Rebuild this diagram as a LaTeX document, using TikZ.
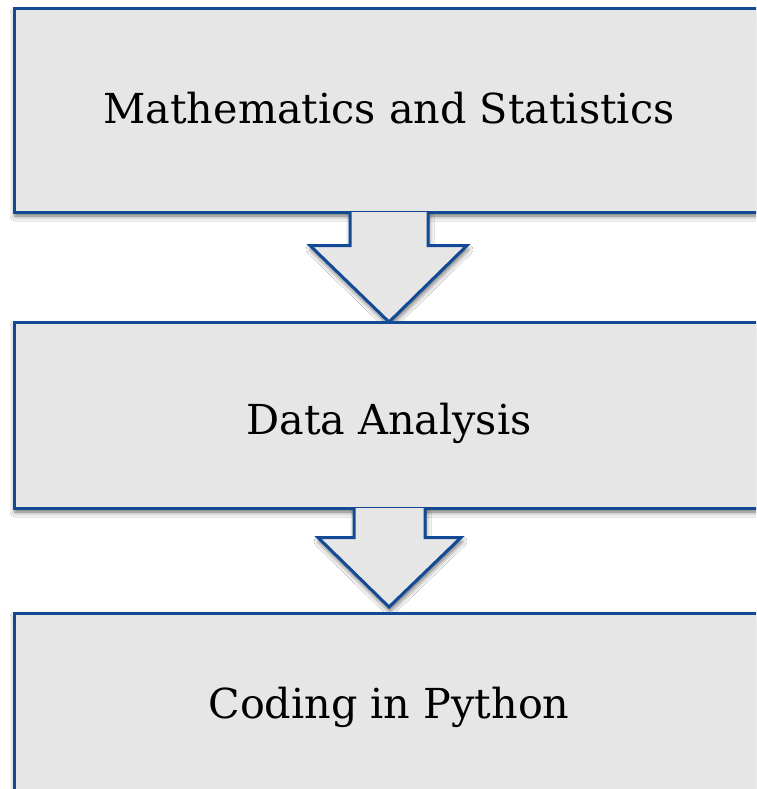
\documentclass[tikz,border=0pt]{standalone}
\usepackage{fontspec}
\setmainfont{DejaVu Serif}
\usetikzlibrary{calc,shadows.blur}
\definecolor{boxfill}{RGB}{230,230,230}
\definecolor{boxline}{RGB}{18,74,150}
\tikzset{
  softshadow/.style={blur shadow={shadow xshift=1pt, shadow yshift=-4pt,
      shadow blur radius=5pt, shadow opacity=60}},
  stagebox/.style={draw=boxline, line width=3pt, fill=boxfill,
      rectangle, inner sep=0pt, minimum width=750pt, softshadow},
  stagetext/.style={anchor=base, inner sep=0pt, font=\fontsize{41.3}{48}\selectfont},
  arrowbody/.style={fill=boxfill, softshadow},
  arrowedge/.style={draw=boxline, line width=3pt, line join=miter},
}
\begin{document}
\begin{tikzpicture}[x=1pt, y=-1pt]
  \useasboundingbox (0,0) rectangle (756,789);
  \clip (0,0) rectangle (756,789);
  \fill[white] (0,0) rectangle (756,789);

  % first stage
  \node[stagebox, minimum height=203pt] (b1) at (389,110.5) {};
  \node[stagetext] (t1) at (389,124) {Mathematics and Statistics};

  % block arrow from stage 1 to stage 2
  \coordinate (a1top) at (b1.south);
  \coordinate (a1tip) at (389,322);
  \path[arrowbody] ($(a1top)+(-39,-1.5)$) -- ($(a1top)+(-39,32)$) -- ($(a1top)+(-79,32)$)
     -- (a1tip) -- ($(a1top)+(78,32)$) -- ($(a1top)+(39,32)$) -- ($(a1top)+(39,-1.5)$) -- cycle;
  \draw[arrowedge] ($(a1top)+(-39,-1.5)$) -- ($(a1top)+(-39,32)$) -- ($(a1top)+(-79,32)$)
     -- (a1tip) -- ($(a1top)+(78,32)$) -- ($(a1top)+(39,32)$) -- ($(a1top)+(39,-1.5)$);

  % second stage
  \node[stagebox, minimum height=186pt] (b2) at (389,415) {};
  \node[stagetext] (t2) at (389,434) {Data Analysis};

  % block arrow from stage 2 to stage 3
  \coordinate (a2top) at (b2.south);
  \coordinate (a2tip) at (389,607);
  \path[arrowbody] ($(a2top)+(-35,-1.5)$) -- ($(a2top)+(-35,28)$) -- ($(a2top)+(-71,28)$)
     -- (a2tip) -- ($(a2top)+(72,28)$) -- ($(a2top)+(36,28)$) -- ($(a2top)+(36,-1.5)$) -- cycle;
  \draw[arrowedge] ($(a2top)+(-35,-1.5)$) -- ($(a2top)+(-35,28)$) -- ($(a2top)+(-71,28)$)
     -- (a2tip) -- ($(a2top)+(72,28)$) -- ($(a2top)+(36,28)$) -- ($(a2top)+(36,-1.5)$);

  % third stage
  \node[stagebox, minimum height=184pt] (b3) at (389,705) {};
  \node[stagetext] (t3) at (389,718) {Coding in Python};
\end{tikzpicture}
\end{document}
